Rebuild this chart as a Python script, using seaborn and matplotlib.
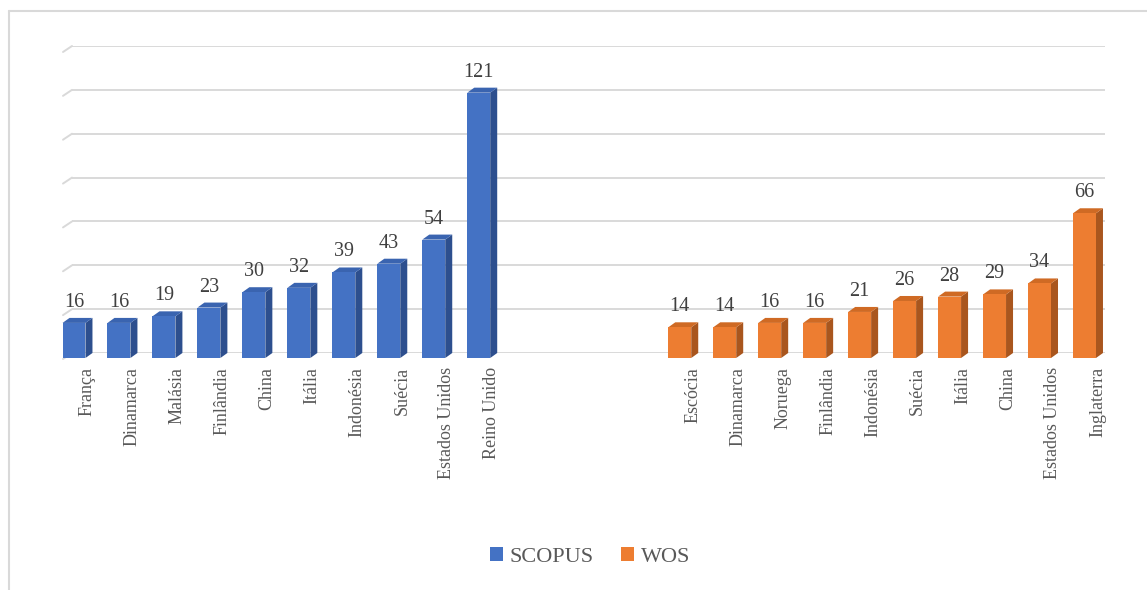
import numpy as np
import pandas as pd
import seaborn as sns
import matplotlib
matplotlib.use("Agg")
import matplotlib.pyplot as plt
from matplotlib.patches import Polygon, Patch
from matplotlib.lines import Line2D

# ---------------- data ----------------
scopus_paises = ["França", "Dinamarca", "Malásia", "Finlândia", "China", "Itália",
                 "Indonésia", "Suécia", "Estados Unidos", "Reino Unido"]
scopus_valores = [16, 16, 19, 23, 30, 32, 39, 43, 54, 121]
wos_paises = ["Escócia", "Dinamarca", "Noruega", "Finlândia", "Indonésia", "Suécia",
              "Itália", "China", "Estados Unidos", "Inglaterra"]
wos_valores = [14, 14, 16, 16, 21, 26, 28, 29, 34, 66]
series = ["SCOPUS", "WOS"]
colors = {"SCOPUS": "#4472C4", "WOS": "#ED7D31"}
side_colors = {"SCOPUS": "#2D4F8E", "WOS": "#A9561E"}
top_colors = {"SCOPUS": "#3A64B0", "WOS": "#CF6A24"}

# ---------------- layout ----------------
gap_offset = 13.47
pos_left = np.arange(len(scopus_valores), dtype=float)
pos_right = gap_offset + np.arange(len(wos_valores), dtype=float)
df = pd.DataFrame({
    "pos": np.concatenate([pos_left, pos_right]),
    "valor": scopus_valores + wos_valores,
    "fonte": ["SCOPUS"] * len(scopus_valores) + ["WOS"] * len(wos_valores),
})

sns.set_style("white")
plt.rcParams["font.family"] = ["Liberation Serif", "DejaVu Serif"]

W, H, DPI = 11.47, 5.90, 100
fig = plt.figure(figsize=(W, H), dpi=DPI)
ax_rect = [72 / 1147, 1 - 353 / 590, 1033 / 1147, (353 - 46) / 590]
ax = fig.add_axes(ax_rect)

sns.barplot(data=df, x="pos", y="valor", hue="fonte", native_scale=True,
            dodge=False, width=0.51, palette=colors, saturation=1,
            edgecolor="none", legend=False, ax=ax)

xlim = (-0.2, pos_right[-1] + 0.3)
ylim = (0, 140)
ax.set_xlim(*xlim)
ax.set_ylim(*ylim)

px_x = ax_rect[2] * W * DPI / (xlim[1] - xlim[0])
px_y = ax_rect[3] * H * DPI / (ylim[1] - ylim[0])
dx = 7 / px_x
dy = 5 / px_y

grid_color = "#D9D9D9"
ax.set_yticks(range(0, 141, 20))
ax.set_yticklabels([])
ax.grid(axis="y", color=grid_color, lw=1.4)
ax.grid(axis="x", visible=False)
ax.set_axisbelow(True)
for v in range(0, 141, 20):
    ax.plot([xlim[0] - 9 / px_x, xlim[0]], [v - 6 / px_y, v], color=grid_color,
            lw=1.4, clip_on=False, zorder=0.5)
for s in ax.spines.values():
    s.set_visible(False)
ax.tick_params(length=0)

# 3D look: front face shifted down-left, side and top faces to the back
bars = [p for p in ax.patches if p.get_height() > 0]
bars.sort(key=lambda p: p.get_x())
fontes = df.sort_values("pos")["fonte"].tolist()
valores = df.sort_values("pos")["valor"].tolist()
for p, fonte, val in zip(bars, fontes, valores):
    x0, w, h = p.get_x(), p.get_width(), p.get_height()
    x1 = x0 + w
    p.set_x(x0 - dx)
    p.set_y(-dy)
    p.set_clip_on(False)
    p.set_zorder(3)
    side = Polygon([(x1 - dx, -dy), (x1, 0), (x1, h), (x1 - dx, h - dy)],
                   closed=True, facecolor=side_colors[fonte], edgecolor="none",
                   zorder=2.9, clip_on=False)
    top = Polygon([(x0 - dx, h - dy), (x0, h), (x1, h), (x1 - dx, h - dy)],
                  closed=True, facecolor=top_colors[fonte], edgecolor="none",
                  zorder=2.9, clip_on=False)
    ax.add_patch(side)
    ax.add_patch(top)
    ax.annotate(str(val), xy=(x0 - dx + w / 2, h), xytext=(0, 11),
                textcoords="offset pixels", ha="center", va="baseline",
                fontsize=14.5, color="#404040")

# tick labels
all_pos = np.concatenate([pos_left, pos_right])
ax.set_xticks(all_pos + 6 / px_x)
ax.set_xticklabels(scopus_paises + wos_paises, rotation=90, fontsize=13,
                   color="#595959", va="top", ha="center")
ax.tick_params(axis="x", pad=10)
ax.set_xlabel("")
ax.set_ylabel("")

# legend
handles = [Patch(facecolor=colors[s], edgecolor="none") for s in series]
fig.legend(handles, series, loc="center", bbox_to_anchor=(590 / 1147, 1 - 557 / 590),
           ncol=2, frameon=False, prop={"family": "Liberation Serif", "size": 16},
           labelcolor="#595959", handlelength=0.6, handleheight=0.6,
           columnspacing=1.2, handletextpad=0.3)

# chart border (left and top only visible)
bx, by = 9 / 1147, 1 - 11 / 590
fig.add_artist(Line2D([bx, bx], [0, by], color="#D9D9D9", lw=1.5, transform=fig.transFigure))
fig.add_artist(Line2D([bx, 1], [by, by], color="#D9D9D9", lw=1.5, transform=fig.transFigure))

fig.savefig("out.png", dpi=DPI)
